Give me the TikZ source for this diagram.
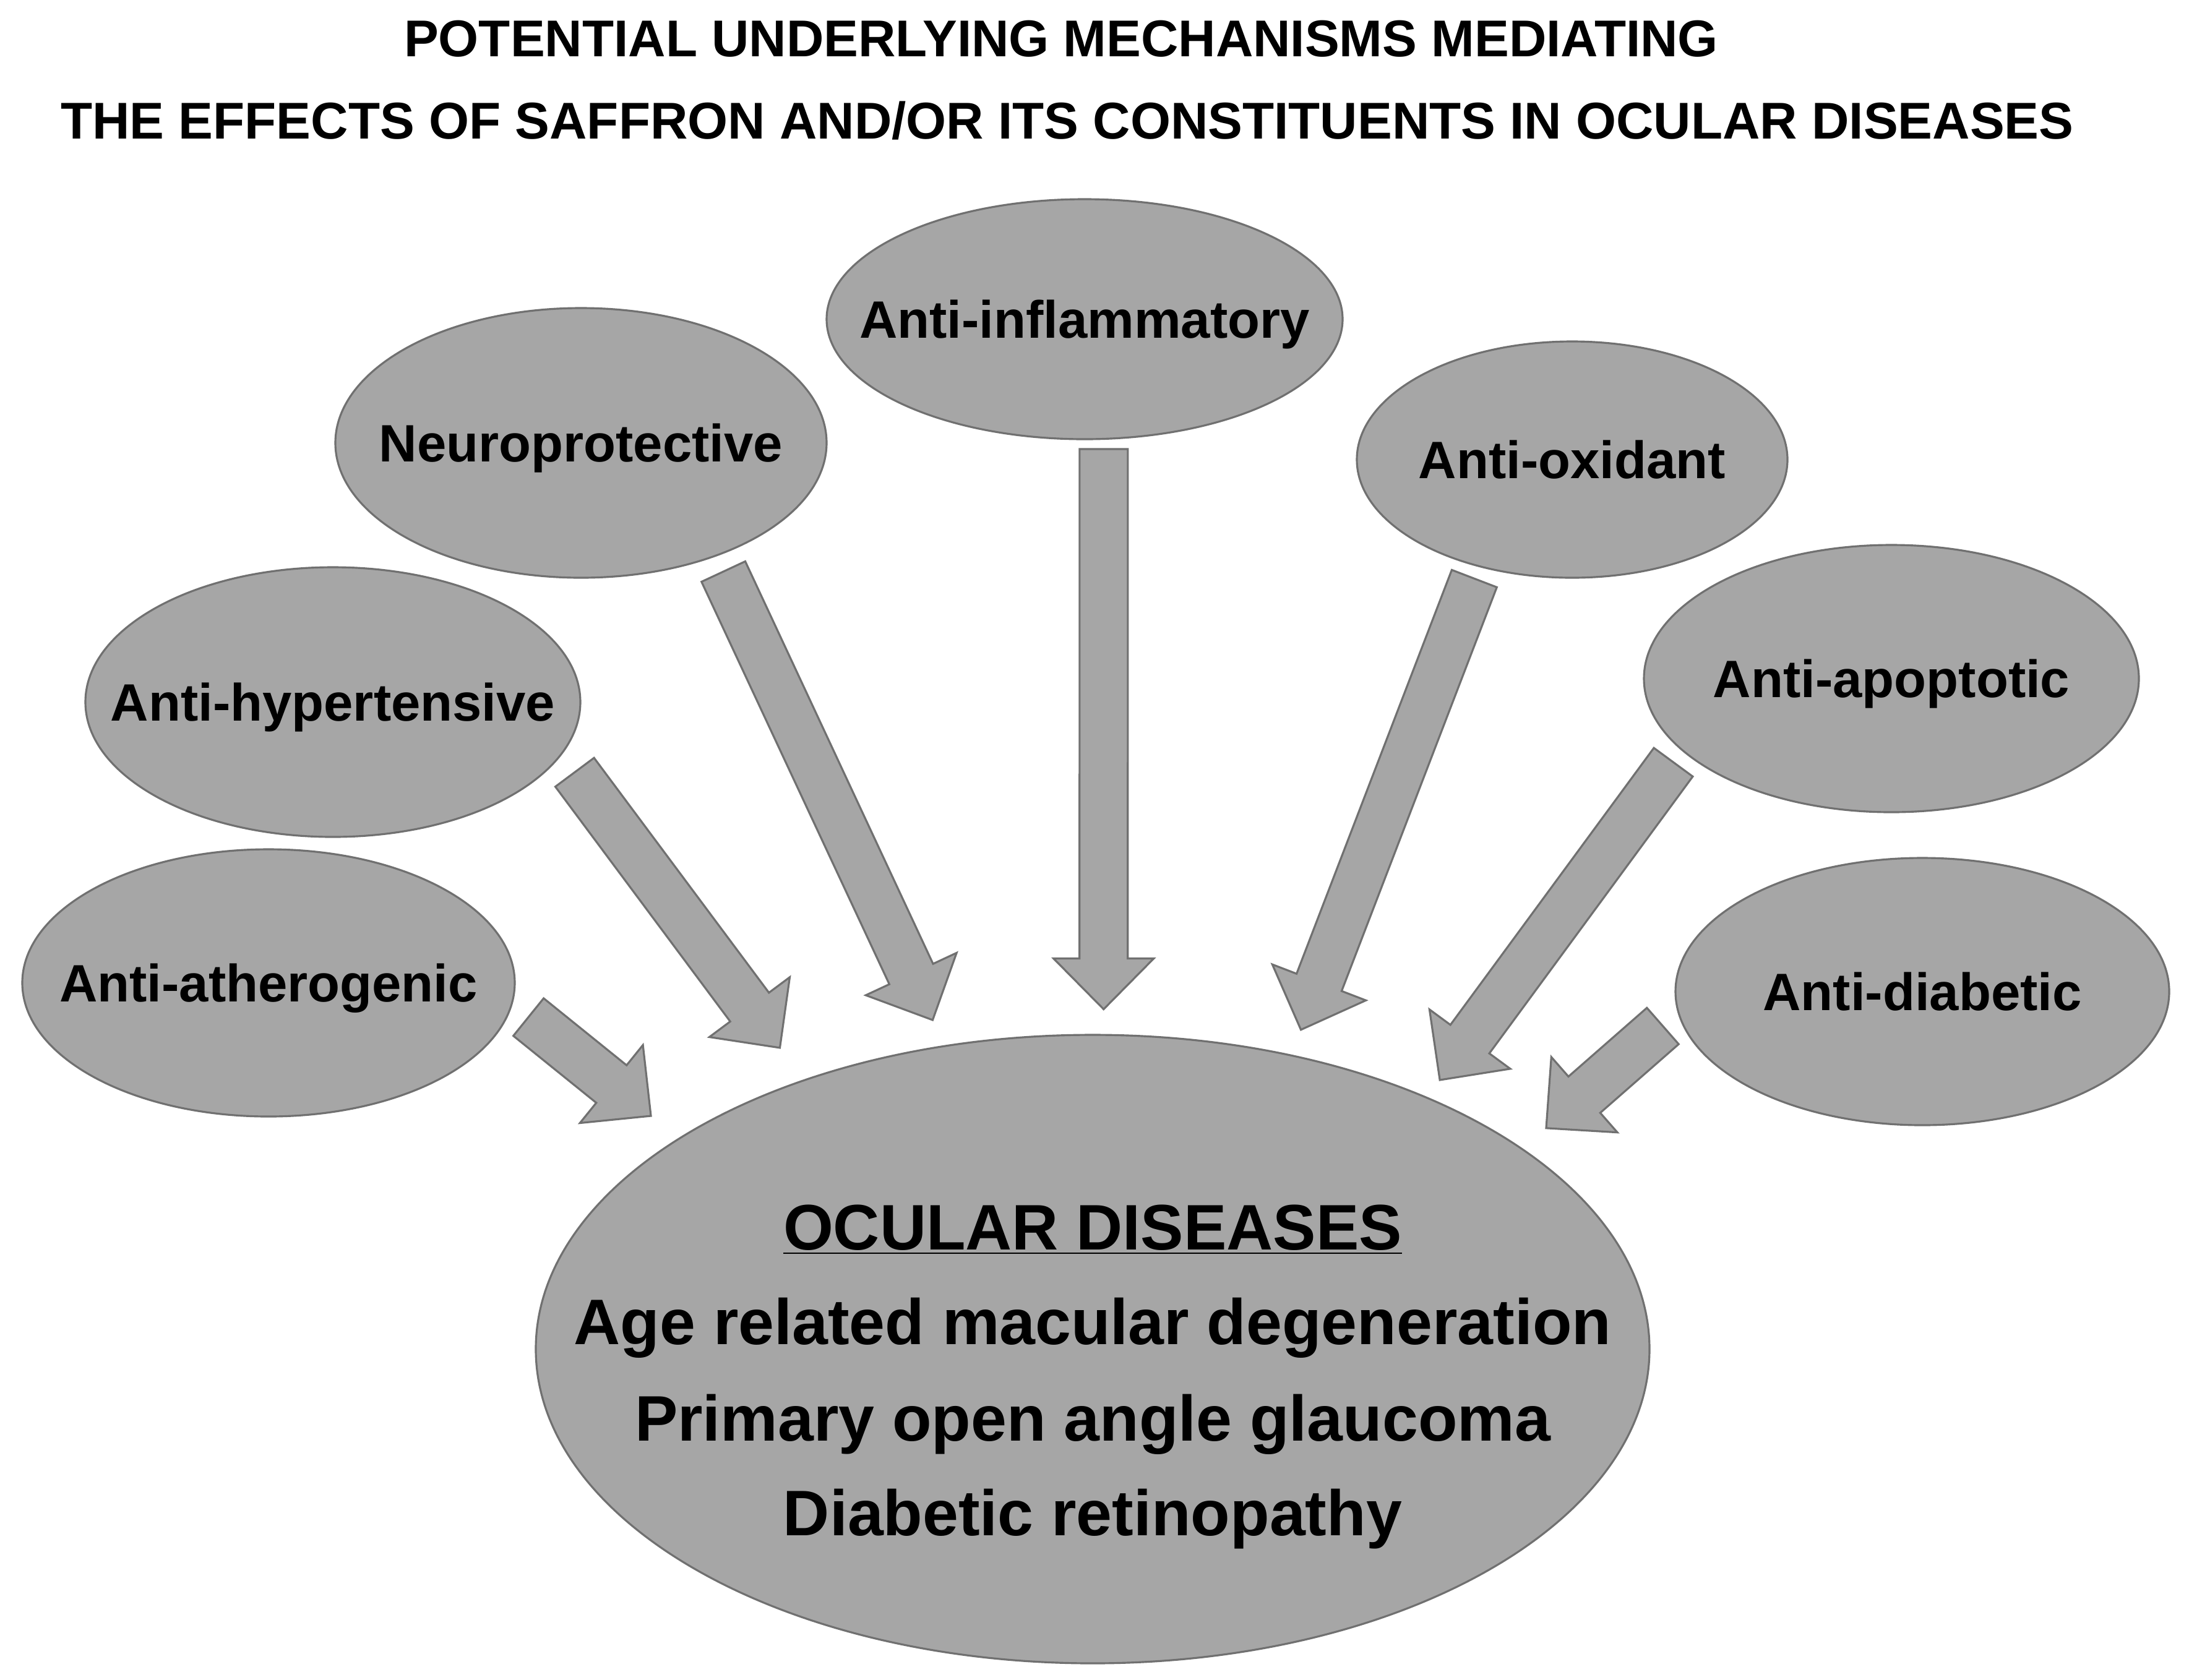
\documentclass[tikz,border=0pt]{standalone}
\usepackage{fontspec}
\setmainfont{Liberation Sans}
\usetikzlibrary{shapes.geometric,calc}
\pgfdeclarelayer{bg}
\pgfsetlayers{bg,main}
\definecolor{bubble}{RGB}{166,166,166}
\definecolor{rim}{RGB}{112,112,112}
\tikzset{tailgap/.store in=\tailgap, tipgap/.store in=\tipgap, tailgap=0.3, tipgap=0.4}

\begin{document}
\begin{tikzpicture}[
        mech/.style={ellipse, fill=bubble, draw=rim, line width=0.9pt, inner sep=0pt},
        lab/.style={font=\fontsize{24.2}{29}\selectfont\bfseries, text height=0.61cm, text depth=0cm, inner sep=0pt},
        dis/.style={font=\fontsize{29.6}{35}\selectfont\bfseries, text height=0.74cm, text depth=0cm, inner sep=0pt},
        head/.style={font=\fontsize{23.8}{28}\selectfont\bfseries, anchor=base, inner sep=0pt},
        blockarrow/.style={fill=bubble, draw=rim, line width=0.9pt, line join=miter,
                to path={let \p1=(\tikztostart), \p2=(\tikztotarget),
                        \n1={atan2(\y2-\y1,\x2-\x1)} in
                        ($(\p1)+(\n1:\tailgap)+(\n1+90:0.39)$)
                        -- ($(\p2)+(\n1:-\tipgap-0.82)+(\n1+90:0.39)$)
                        -- ($(\p2)+(\n1:-\tipgap-0.82)+(\n1+90:0.81)$)
                        -- ($(\p2)+(\n1:-\tipgap)$)
                        -- ($(\p2)+(\n1:-\tipgap-0.82)+(\n1-90:0.81)$)
                        -- ($(\p2)+(\n1:-\tipgap-0.82)+(\n1-90:0.39)$)
                        -- ($(\p1)+(\n1:\tailgap)+(\n1-90:0.39)$) -- cycle}}]
        \useasboundingbox (0cm, 0cm) rectangle (35.38cm, -27.15cm);
        \node (t0) [head] at (17.15cm, -0.91cm) {POTENTIAL UNDERLYING MECHANISMS MEDIATING};
        \node (t1) [head] at (17.25cm, -2.24cm) {THE EFFECTS OF SAFFRON AND/OR ITS CONSTITUENTS IN OCULAR DISEASES};
        \node (v0) [mech, minimum width=7.96cm, minimum height=4.32cm,
                label={[lab]center:{Anti-atherogenic}}] at (4.34cm, -15.89cm) {};
        \node (v1) [mech, minimum width=8.00cm, minimum height=4.36cm,
                label={[lab]center:{Anti-hypertensive}}] at (5.38cm, -11.35cm) {};
        \node (v2) [mech, minimum width=7.94cm, minimum height=4.36cm,
                label={[lab]center:{Neuroprotective}}] at (9.39cm, -7.16cm) {};
        \node (v3) [mech, minimum width=8.34cm, minimum height=3.88cm,
                label={[lab]center:{Anti-inflammatory}}] at (17.53cm, -5.16cm) {};
        \node (v4) [mech, minimum width=6.96cm, minimum height=3.82cm,
                label={[lab]center:{Anti-oxidant}}] at (25.41cm, -7.43cm) {};
        \node (v5) [mech, minimum width=8.00cm, minimum height=4.32cm,
                label={[lab]center:{Anti-apoptotic}}] at (30.57cm, -10.97cm) {};
        \node (v6) [mech, minimum width=7.98cm, minimum height=4.32cm,
                label={[lab]center:{Anti-diabetic}}] at (31.07cm, -16.03cm) {};
        \node (v7) [mech, minimum width=18.00cm, minimum height=10.16cm,
                label={[dis, yshift=1.98cm]center:{\underline{OCULAR DISEASES}}},
                label={[dis, yshift=0.45cm]center:{Age related macular degeneration}},
                label={[dis, yshift=-1.11cm]center:{Primary open angle glaucoma}},
                label={[dis, yshift=-2.64cm]center:{Diabetic retinopathy}}] at (17.66cm, -21.81cm) {};
        \begin{pgfonlayer}{bg}
                \fill[white] (0cm, 0cm) rectangle (35.38cm, -27.15cm);
                \draw[blockarrow, tailgap=0.33, tipgap=0.57] (v0.-5.05) to (v7.153.6);
                \draw[blockarrow, tailgap=0.35, tipgap=0.64] (v1.-13.87) to (v7.137.8);
                \draw[blockarrow, tailgap=0.27, tipgap=0.45] (v2.-40.5) to (v7.116.3);
                \draw[blockarrow, tailgap=0.15, tipgap=0.40] (v3.-81.19) to (v7.88.08);
                \draw[blockarrow, tailgap=0.20, tipgap=0.43] (v4.-131.7) to (v7.56.15);
                \draw[blockarrow, tailgap=0.23, tipgap=0.34] (v5.-161.0) to (v7.37.95);
                \draw[blockarrow, tailgap=0.32, tipgap=0.50] (v6.-175.3) to (v7.25.64);
        \end{pgfonlayer}
\end{tikzpicture}
\end{document}
